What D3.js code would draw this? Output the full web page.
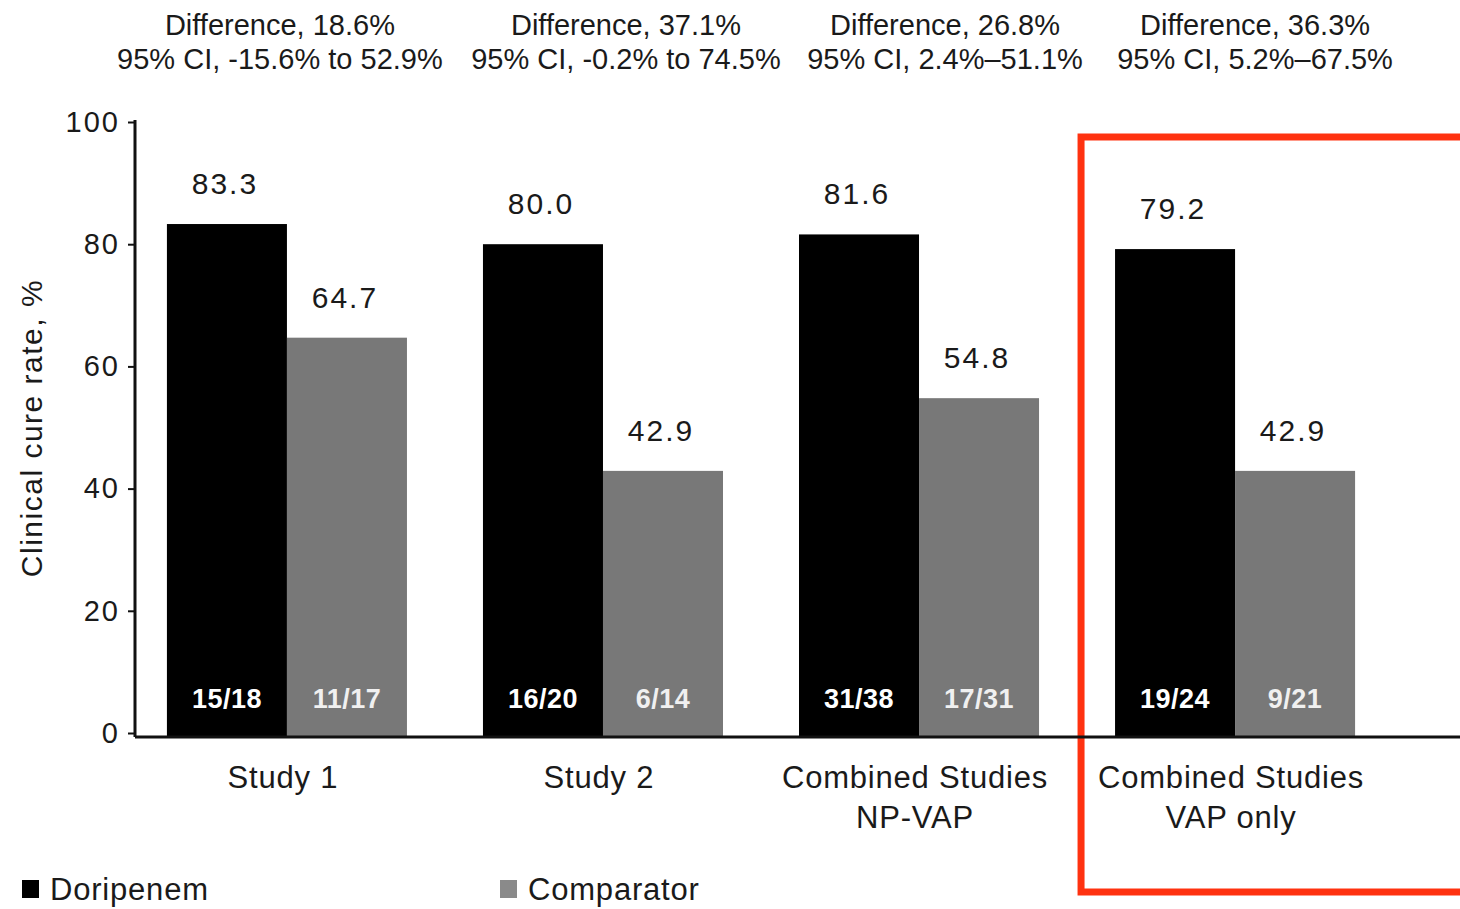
<!DOCTYPE html>
<html>
<head>
<meta charset="utf-8">
<script src="https://cdn.jsdelivr.net/npm/d3@7"></script>
<style>
  html, body { margin: 0; padding: 0; background: #fff; }
  svg { display: block; }
  text { font-family: "Liberation Sans", Arial, Helvetica, sans-serif; fill: #1a1a1a; }
</style>
</head>
<body>
<svg id="chart" width="1460" height="909"></svg>
<script>
// Clinical cure rates by study
const categories = ["Study 1", "Study 2", "Combined Studies NP-VAP", "Combined Studies VAP only"];
const categoryLines = [["Study 1"], ["Study 2"], ["Combined Studies", "NP-VAP"], ["Combined Studies", "VAP only"]];
const seriesNames = ["Doripenem", "Comparator"];
const doripenem = [83.3, 80.0, 81.6, 79.2];
const comparator = [64.7, 42.9, 54.8, 42.9];
const doripenemCounts = ["15/18", "16/20", "31/38", "19/24"];
const comparatorCounts = ["11/17", "6/14", "17/31", "9/21"];
const differences = ["Difference, 18.6%", "Difference, 37.1%", "Difference, 26.8%", "Difference, 36.3%"];
const confidence = ["95% CI, -15.6% to 52.9%", "95% CI, -0.2% to 74.5%", "95% CI, 2.4%\u201351.1%", "95% CI, 5.2%\u201367.5%"];
const yTicks = [0, 20, 40, 60, 80, 100];
const yTitle = "Clinical cure rate, %";

const colors = { Doripenem: "#000000", Comparator: "#787878" };

const svg = d3.select("#chart");

const x = d3.scaleBand()
  .domain(categories)
  .range([135, 1387])
  .paddingInner(0.2405)
  .paddingOuter(0.101);

const xSeries = d3.scaleBand()
  .domain(seriesNames)
  .range([0, x.bandwidth()])
  .padding(0);

const y = d3.scaleLinear().domain([0, 100]).range([733, 122]);
const baseY = 737;

// Rows of bar data built from the arrays above
const rows = categories.map((c, i) => ({
  category: c,
  bars: [
    { series: "Doripenem", value: doripenem[i], count: doripenemCounts[i] },
    { series: "Comparator", value: comparator[i], count: comparatorCounts[i] }
  ]
}));

// Highlight box around the VAP-only group
const hl = categories[3];
svg.append("rect")
  .attr("x", x(hl) - 34)
  .attr("y", 137)
  .attr("width", 1470 - (x(hl) - 34))
  .attr("height", 755)
  .attr("fill", "none")
  .attr("stroke", "#ff3210")
  .attr("stroke-width", 7);

// Bars
const groups = svg.append("g").selectAll("g.group")
  .data(rows)
  .join("g")
  .attr("class", "group")
  .attr("transform", d => `translate(${x(d.category)},0)`);

groups.selectAll("rect")
  .data(d => d.bars)
  .join("rect")
  .attr("x", d => xSeries(d.series))
  .attr("y", d => y(d.value))
  .attr("width", xSeries.bandwidth())
  .attr("height", d => baseY - y(d.value))
  .attr("fill", d => colors[d.series]);

// Value labels above bars
groups.selectAll("text.value")
  .data(d => d.bars)
  .join("text")
  .attr("class", "value")
  .attr("x", d => xSeries(d.series) + xSeries.bandwidth() / 2 - 2)
  .attr("y", d => y(d.value) - 30)
  .attr("text-anchor", "middle")
  .attr("font-size", 30)
  .attr("letter-spacing", 2)
  .text(d => d.value.toFixed(1));

// n/N counts inside bars
groups.selectAll("text.count")
  .data(d => d.bars)
  .join("text")
  .attr("class", "count")
  .attr("x", d => xSeries(d.series) + xSeries.bandwidth() / 2)
  .attr("y", 708)
  .attr("text-anchor", "middle")
  .attr("font-size", 27)
  .attr("font-weight", "bold")
  .attr("letter-spacing", 0.5)
  .style("fill", d => d.series === "Doripenem" ? "#ffffff" : "#f0f0f0")
  .text(d => d.count);

// Y axis
const yAxis = d3.axisLeft(y).tickValues(yTicks).tickSize(7).tickPadding(8);
const gy = svg.append("g").attr("transform", "translate(135,0)").call(yAxis);
gy.select(".domain").attr("d", `M0,${y(100) - 2}V${baseY}`).attr("stroke", "#111").attr("stroke-width", 3);
gy.selectAll(".tick line").attr("stroke", "#111").attr("stroke-width", 2);
gy.selectAll(".tick text")
  .attr("font-size", 29)
  .attr("letter-spacing", 2)
  .attr("font-family", "'Liberation Sans', Arial, sans-serif")
  .style("fill", "#1a1a1a");

// X axis baseline
svg.append("line")
  .attr("x1", 135).attr("x2", 1460)
  .attr("y1", baseY).attr("y2", baseY)
  .attr("stroke", "#111").attr("stroke-width", 3);

// Category labels
const catLabels = svg.append("g").selectAll("text.cat")
  .data(categories)
  .join("text")
  .attr("class", "cat")
  .attr("x", d => x(d) + x.bandwidth() / 2 - 4)
  .attr("y", 788)
  .attr("text-anchor", "middle")
  .attr("font-size", 31)
  .attr("letter-spacing", 0.8);
catLabels.selectAll("tspan")
  .data((d, i) => categoryLines[i])
  .join("tspan")
  .attr("x", function () { return d3.select(this.parentNode).attr("x"); })
  .attr("dy", (d, i) => i === 0 ? 0 : 40)
  .text(d => d);

// Difference and CI annotations, nudged sideways so the wide CI lines do not touch
const noteNudge = [-7, 23, 26, 20];
const notes = svg.append("g").selectAll("text.note")
  .data(categories)
  .join("text")
  .attr("class", "note")
  .attr("text-anchor", "middle")
  .attr("font-size", 29)
  .attr("x", (d, i) => x(d) + x.bandwidth() / 2 + noteNudge[i]);
notes.append("tspan")
  .attr("x", function () { return d3.select(this.parentNode).attr("x"); })
  .attr("y", 35)
  .text((d, i) => differences[i]);
notes.append("tspan")
  .attr("x", function () { return d3.select(this.parentNode).attr("x"); })
  .attr("y", 69)
  .text((d, i) => confidence[i]);

// Y axis title
svg.append("text")
  .attr("transform", "translate(42,428) rotate(-90)")
  .attr("text-anchor", "middle")
  .attr("font-size", 30)
  .attr("letter-spacing", 1.5)
  .text(yTitle);

// Legend
const legendX = [22, 500];
const legend = svg.append("g").selectAll("g.legend")
  .data(seriesNames)
  .join("g")
  .attr("class", "legend")
  .attr("transform", (d, i) => `translate(${legendX[i]},880)`);
legend.append("rect")
  .attr("width", 17).attr("height", 18)
  .attr("fill", d => d === "Comparator" ? "#8a8a8a" : colors[d]);
legend.append("text")
  .attr("x", 28).attr("y", 20)
  .attr("font-size", 31)
  .attr("letter-spacing", 0.8)
  .text(d => d);
</script>
</body>
</html>
